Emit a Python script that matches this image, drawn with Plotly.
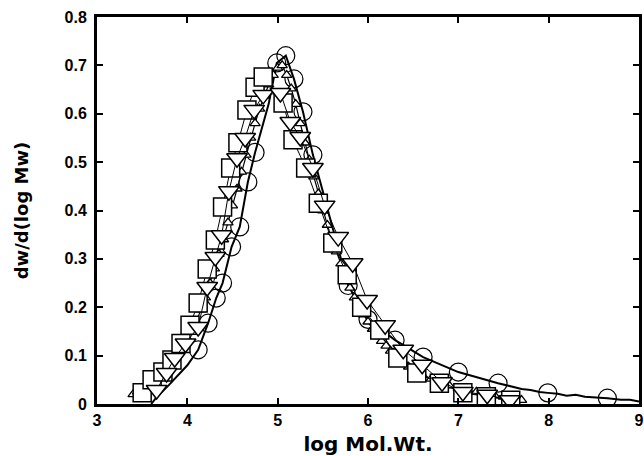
import plotly.graph_objects as go

# Circle series: dense line and marker points
circ_line_x = [3.6, 3.66, 3.8, 4.0, 4.12, 4.23, 4.32, 4.39, 4.49, 4.58, 4.67, 4.75, 4.9, 4.99, 5.09, 5.18, 5.28,
               5.39, 5.6, 5.78, 6.0, 6.3, 6.61, 7.0, 7.44, 7.6, 7.7, 7.8, 7.9, 7.99, 8.1, 8.2, 8.3, 8.4, 8.5,
               8.65, 8.8, 8.9, 9.0]
circ_line_y = [0.0, 0.014, 0.04, 0.08, 0.112, 0.167, 0.219, 0.25, 0.325, 0.366, 0.459, 0.52, 0.62, 0.705, 0.72,
               0.672, 0.604, 0.515, 0.37, 0.245, 0.175, 0.132, 0.097, 0.066, 0.043, 0.036, 0.031, 0.029, 0.025,
               0.023, 0.021, 0.017, 0.019, 0.015, 0.014, 0.012, 0.009, 0.009, 0.005]
circ_x = [4.12, 4.23, 4.32, 4.39, 4.49, 4.58, 4.67, 4.75, 4.99, 5.09, 5.18, 5.28, 5.39, 5.78, 6.0, 6.30, 6.61,
          7.00, 7.44, 7.99, 8.65]
circ_y = [0.112, 0.167, 0.219, 0.25, 0.325, 0.366, 0.459, 0.52, 0.705, 0.72, 0.672, 0.604, 0.515, 0.245, 0.175,
          0.132, 0.097, 0.066, 0.043, 0.023, 0.012]

# Up-triangle series (dense)
up_x = [3.40, 3.45, 3.50, 3.55, 3.60, 3.65, 3.70, 3.75, 3.80, 3.85, 3.90, 3.95, 4.00, 4.05, 4.10, 4.15, 4.20,
        4.25, 4.30, 4.35, 4.40, 4.45, 4.50, 4.55, 4.60, 4.65, 4.70, 4.75, 4.80, 4.85, 4.90, 4.95, 5.00, 5.05,
        5.10, 5.15, 5.20, 5.25, 5.30, 5.35, 5.40, 5.45, 5.50, 5.55, 5.60, 5.65, 5.70, 5.75, 5.80, 5.85, 5.90,
        5.95, 6.00, 6.05, 6.10, 6.15, 6.20, 6.25, 6.30, 6.35, 6.40, 6.45, 6.50, 6.55, 6.60, 6.70, 6.80, 6.90,
        7.00, 7.10, 7.20, 7.30, 7.40, 7.50, 7.60, 7.70]
up_y = [0.020, 0.025, 0.030, 0.037, 0.045, 0.052, 0.060, 0.070, 0.080, 0.092, 0.105, 0.120, 0.135, 0.152,
        0.170, 0.195, 0.220, 0.250, 0.280, 0.310, 0.340, 0.375, 0.410, 0.445, 0.480, 0.515, 0.550, 0.580,
        0.610, 0.637, 0.660, 0.680, 0.695, 0.700, 0.680, 0.652, 0.620, 0.580, 0.540, 0.505, 0.470, 0.435,
        0.400, 0.370, 0.340, 0.315, 0.290, 0.265, 0.240, 0.220, 0.200, 0.185, 0.170, 0.155, 0.140, 0.130,
        0.120, 0.110, 0.100, 0.092, 0.085, 0.077, 0.070, 0.065, 0.060, 0.052, 0.045, 0.038, 0.032, 0.028,
        0.025, 0.021, 0.018, 0.015, 0.012, 0.008]

# Square series
sq_x = [3.50, 3.61, 3.73, 3.83, 3.93, 4.03, 4.12, 4.22, 4.31, 4.39, 4.48, 4.56, 4.66, 4.75, 4.84, 5.06, 5.17,
        5.31, 5.45, 5.61, 5.77, 5.93, 6.13, 6.33, 6.54, 6.79, 7.05, 7.31, 7.58]
sq_y = [0.023, 0.05, 0.066, 0.091, 0.125, 0.163, 0.209, 0.279, 0.339, 0.407, 0.488, 0.54, 0.608, 0.655, 0.676,
        0.622, 0.546, 0.488, 0.415, 0.333, 0.267, 0.2, 0.153, 0.095, 0.064, 0.043, 0.023, 0.015, 0.008]

# Down-triangle series
dt_x = [3.66, 3.77, 3.86, 3.98, 4.12, 4.22, 4.31, 4.38, 4.46, 4.55, 4.64, 4.74, 4.84, 5.03, 5.14, 5.25, 5.39,
        5.52, 5.67, 5.83, 5.99, 6.19, 6.39, 6.6, 6.82, 7.05, 7.32, 7.57]
dt_y = [0.029, 0.064, 0.095, 0.125, 0.159, 0.242, 0.304, 0.349, 0.44, 0.508, 0.55, 0.608, 0.639, 0.643, 0.583,
        0.552, 0.488, 0.41, 0.345, 0.291, 0.215, 0.163, 0.112, 0.081, 0.045, 0.025, 0.019, 0.008]

x_ticks = [3, 4, 5, 6, 7, 8, 9]
y_ticks = [0, 0.1, 0.2, 0.3, 0.4, 0.5, 0.6, 0.7, 0.8]

fig = go.Figure()
fig.add_trace(go.Scatter(x=circ_line_x, y=circ_line_y, mode="lines",
                         line=dict(color="black", width=2), showlegend=False))
fig.add_trace(go.Scatter(x=circ_x, y=circ_y, mode="markers",
                         marker=dict(symbol="circle-open", size=18, color="black", line=dict(width=1.2)),
                         showlegend=False))
fig.add_trace(go.Scatter(x=up_x, y=up_y, mode="lines+markers",
                         line=dict(color="black", width=1.2),
                         marker=dict(symbol="triangle-up", size=9, color="white",
                                     line=dict(color="black", width=1.3)),
                         showlegend=False))
fig.add_trace(go.Scatter(x=sq_x, y=sq_y, mode="lines+markers",
                         line=dict(color="black", width=1),
                         marker=dict(symbol="square", size=18, color="white",
                                     line=dict(color="black", width=1.5)),
                         showlegend=False))
fig.add_trace(go.Scatter(x=dt_x, y=dt_y, mode="lines+markers",
                         line=dict(color="black", width=1),
                         marker=dict(symbol="triangle-down", size=18, color="white",
                                     line=dict(color="black", width=1.5)),
                         showlegend=False))

tick_font = dict(family="Liberation Sans, Arial", size=16, color="black", weight="bold")
fig.update_layout(
    width=644, height=456,
    margin=dict(l=97, r=5, t=17, b=52),
    plot_bgcolor="white", paper_bgcolor="white",
    xaxis=dict(range=[3, 9], tickvals=x_ticks, ticks="inside", ticklen=6, tickwidth=1.5,
               tickcolor="black", showline=True, linewidth=3, linecolor="black", mirror="ticks",
               showgrid=False, zeroline=False, tickfont=tick_font, automargin=False,
               title=dict(text="log Mol.Wt.", font=dict(family="DejaVu Sans", size=20,
                                                         color="black", weight="bold"), standoff=10)),
    yaxis=dict(range=[0, 0.8], tickvals=y_ticks, ticks="inside", ticklen=6, tickwidth=1.5,
               tickcolor="black", showline=True, linewidth=3, linecolor="black", mirror="ticks",
               showgrid=False, zeroline=False, tickfont=tick_font, ticklabelstandoff=4, automargin=False,
               title=dict(text="dw/d(log Mw)", font=dict(family="DejaVu Sans", size=18,
                                                          color="black", weight="bold"), standoff=32)),
)
fig.write_html("out.html")
